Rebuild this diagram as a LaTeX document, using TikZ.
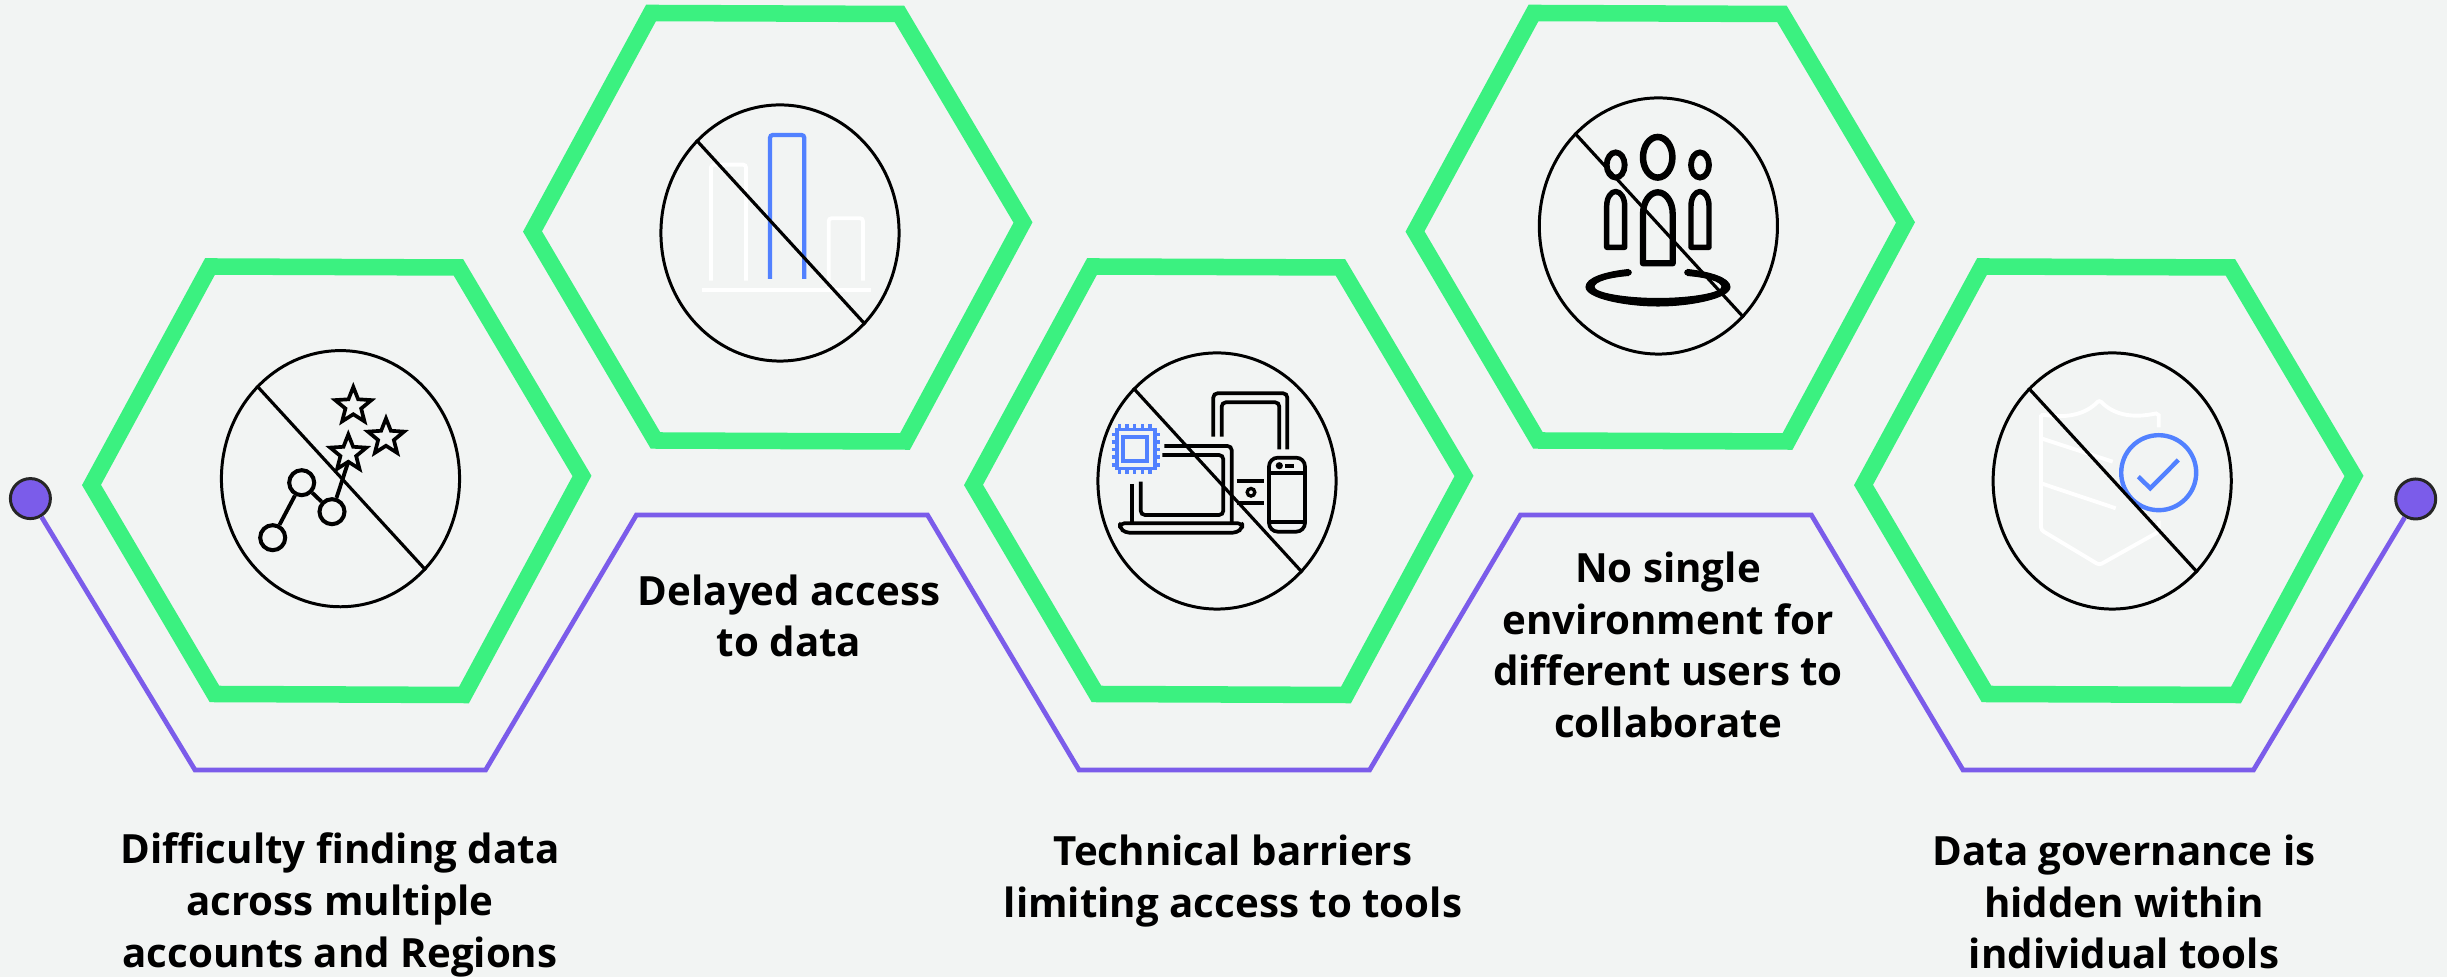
\documentclass[tikz,border=0pt]{standalone}
\usepackage{fontspec}
\setmainfont{Open Sans}
\usetikzlibrary{shapes.geometric}
\definecolor{bgc}{HTML}{F2F4F3}
\definecolor{hexg}{HTML}{3BF180}
\definecolor{purp}{HTML}{7B5CEA}
\definecolor{blu}{HTML}{5281FF}
\tikzset{
  x=0.01cm,y=-0.01cm,
  hexline/.style={draw=hexg,line width=4.7pt,miter limit=10},
  conn/.style={draw=purp,line width=1.35pt},
  dot/.style={circle,draw=black!85,fill=purp,line width=0.85pt,minimum size=0.4cm,inner sep=0pt},
  noring/.style={ellipse,draw=black,line width=0.85pt,minimum width=2.38cm,minimum height=2.56cm,inner sep=0pt},
  slashline/.style={draw=black,line width=0.9pt},
  caption/.style={align=center,font=\fontsize{11.45}{14.7}\selectfont\bfseries,text=black,inner sep=0pt},
  ico/.style={draw=black,line width=1.1pt},
  icothin/.style={draw=black,line width=1.05pt,rounded corners=1.2pt},
  icowhite/.style={draw=white,line width=1.1pt,rounded corners=0.8pt},
  icoblue/.style={draw=blu,line width=1.2pt,rounded corners=0.8pt},
  chipline/.style={draw=blu,line width=1pt},
  starmark/.style={star,star points=5,star point ratio=2.3,draw=black,line width=1.05pt,minimum size=0.38cm,inner sep=0pt},
  chartdot/.style={circle,draw=black,line width=1.15pt,minimum size=0.25cm,inner sep=0pt},
  hexa/.pic={\draw[hexline] (-245.5,4) -- (-127,-214.5) -- (121.5,-213.5) -- (245,-5) -- (127,214) -- (-122.5,213) -- cycle;}
}
\begin{document}
\begin{tikzpicture}
\path[fill=bgc,use as bounding box] (0,0) rectangle (2447,977);
% hexagons
\pic at (337,481) {hexa};
\pic at (778,227.5) {hexa};
\pic at (1219,481) {hexa};
\pic at (1660.5,227.5) {hexa};
\pic at (2109,481) {hexa};
% connector
\node[dot] (dotL) at (30.4,498.6) {};
\node[dot] (dotR) at (2415.7,499) {};
\coordinate (p1) at (195,770); \coordinate (p2) at (485.6,770);
\coordinate (p3) at (636.4,515); \coordinate (p4) at (927.5,515);
\coordinate (p5) at (1079,770); \coordinate (p6) at (1369.6,770);
\coordinate (p7) at (1520.4,515); \coordinate (p8) at (1811.4,515);
\coordinate (p9) at (1963,770); \coordinate (p10) at (2253.5,770);
\draw[conn] (dotL) -- (p1) -- (p2) -- (p3) -- (p4) -- (p5) -- (p6) -- (p7) -- (p8) -- (p9) -- (p10) -- (dotR);
% icon 1
\node[starmark] (s1) at (353.3,406) {};
\node[starmark] (s2) at (386,437.5) {};
\node[starmark] (s3) at (348.3,453.5) {};
\node[chartdot] (c1) at (272.7,537.7) {};
\node[chartdot] (c2) at (301.7,482.7) {};
\node[chartdot] (c3) at (332,511.7) {};
\coordinate (c4) at (348.3,461.7);
\draw[ico] (c1) -- (c2);
\draw[ico] (c2) -- (c3);
\draw[ico] (c3) -- (c4);
% icon 2
\draw[icowhite] (711,280.7) -- (711,164.7) -- (746,164.7) -- (746,280.7);
\draw[icoblue] (770,279) -- (770,135) -- (804.3,135) -- (804.3,279);
\draw[icowhite] (828.7,280.7) -- (828.7,218.3) -- (863,218.3) -- (863,280.7);
\draw[icowhite] (702.3,289.7) -- (871,289.7);
% icon 3
\draw[chipline] (1117,429.3) rectangle (1155,468.7);
\draw[chipline,line width=1.2pt] (1123.3,437.3) rectangle (1146.7,461.3);
\foreach \xx in {1119.3,1127,1134.7,1142.3,1150}{\draw[chipline] (\xx,424) -- (\xx,429.3);\draw[chipline] (\xx,468.7) -- (\xx,474);}
\foreach \yy in {434.3,442,449.3,457,465}{\draw[chipline] (1111.5,\yy) -- (1117,\yy);\draw[chipline] (1155,\yy) -- (1159.5,\yy);}
\draw[icothin] (1132.3,484) -- (1132.3,522.7);
\draw[icothin] (1164.3,446) -- (1231.7,446) -- (1231.7,522.7);
\draw[icothin] (1162.3,455) -- (1223.3,455) -- (1223.3,515) -- (1140.7,515) -- (1140.7,481.7);
\draw[icothin,line join=round] (1120,523.3) -- (1242.3,523.3) -- (1242.3,528) -- (1237,532.7) -- (1125,532.7) -- (1120,528) -- cycle;
\draw[icothin] (1213.3,436.7) -- (1213.3,393.3) -- (1287.3,393.3) -- (1287.3,449.3);
\draw[icothin] (1221.7,436.7) -- (1221.7,402.3) -- (1279.3,402.3) -- (1279.3,449.3);
\draw[icothin] (1236.7,481.3) -- (1264.3,481.3);
\draw[icothin] (1236.7,502.7) -- (1264.3,502.7);
\draw[ico,line width=0.95pt] (1251,492.3) circle (3.8);
\draw[icothin,rounded corners=2.5pt] (1269,457.7) rectangle (1305,531.7);
\draw[icothin] (1269,472.7) -- (1305,472.7);
\draw[icothin] (1269,521.7) -- (1305,521.7);
\fill[black] (1279.3,465.7) circle (3.6);
\draw[icothin] (1285,465.7) -- (1294.3,465.7);
% icon 4
\draw[ico,line width=1.85pt] (1657.7,157.3) ellipse [x radius=14.7,y radius=20.3];
\draw[ico,line width=1.65pt] (1615.7,165) ellipse [x radius=9,y radius=12.6];
\draw[ico,line width=1.65pt] (1700,165) ellipse [x radius=9,y radius=12.6];
\draw[ico,line width=1.55pt,line join=round] (1606.7,247.3) -- (1606.7,206) arc[start angle=180,end angle=360,x radius=9,y radius=14.5] -- (1624.7,247.3) -- cycle;
\draw[ico,line width=1.55pt,line join=round] (1691,247.3) -- (1691,206) arc[start angle=180,end angle=360,x radius=9,y radius=14.5] -- (1709,247.3) -- cycle;
\draw[ico,line width=1.8pt,line join=round] (1643,263.3) -- (1643,214) arc[start angle=180,end angle=360,x radius=14.85,y radius=21.7] -- (1672.7,263.3) -- cycle;
\fill[black,draw=black,line width=0.3pt,line join=round] (1628.7,269.5) .. controls (1605,272) and (1586,278) .. (1586,287) .. controls (1586,298) and (1625,306) .. (1658,306) .. controls (1691,306) and (1730,298) .. (1730,287) .. controls (1730,278) and (1710,272) .. (1687.3,269.5) -- (1687.3,275.5) .. controls (1706,277) and (1722,281) .. (1722,287) .. controls (1722,293) and (1692,298.5) .. (1658,298.5) .. controls (1624,298.5) and (1594,293) .. (1594,287) .. controls (1594,281) and (1610,277) .. (1628.7,275.5) -- cycle;
\fill[black] (1628.7,272.5) circle (3.1);
\fill[black] (1687.3,272.5) circle (3.1);
% icon 5
\draw[icowhite] (2158.7,427.3) -- (2158.7,418) .. controls (2158.7,415) and (2156,413.5) .. (2153.3,414) .. controls (2130,418) and (2113,414) .. (2099.3,400) .. controls (2086,414) and (2068,418) .. (2045,415) .. controls (2042,415) and (2041,417) .. (2041,419) -- (2041,530) -- (2099.3,565) -- (2158.7,531.7) -- (2158.7,520.7);
\draw[icowhite] (2041,438.3) -- (2112.7,461.7);
\draw[icowhite] (2041,483.3) -- (2115.7,508.3);
\draw[blu,line width=1.25pt] (2158.7,472.7) circle (37.5);
\draw[blu,line width=1.25pt] (2138.3,476.7) -- (2150.3,488.3) -- (2178.3,460);
% rings and slashes
\node[noring] (e1) at (340.5,478.7) {};
\node[noring] (e2) at (780,233) {};
\node[noring] (e3) at (1217,481) {};
\node[noring] (e4) at (1658.4,226) {};
\node[noring] (e5) at (2112.2,481) {};
\foreach \e in {e1,e2,e3,e4,e5}{\draw[slashline] (\e.132.9) -- (\e.-47.1);}
% captions
\node[caption] (t1) at (340,905) {Difficulty finding data\\across multiple\\accounts and Regions};
\node[caption] (t2) at (789,616) {Delayed access\\to data};
\node[caption] (t3) at (1233,881) {Technical barriers\\limiting access to tools};
\node[caption] (t4) at (1668,645) {No single\\environment for\\different users to\\collaborate};
\node[caption] (t5) at (2124,902) {Data governance is\\hidden within\\individual tools};
\end{tikzpicture}
\end{document}
